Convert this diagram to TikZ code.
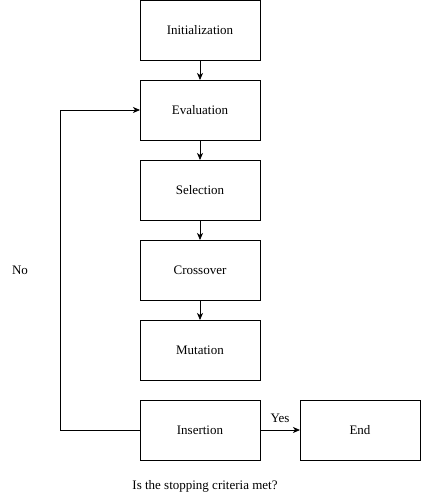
\documentclass[tikz,border=0pt]{standalone}
\usepackage{fontspec}
\setmainfont{Liberation Serif}
\usetikzlibrary{arrows.meta,positioning}

\begin{document}
\begin{tikzpicture}[
    x=1pt, y=1pt,
    node distance=20pt,
    every node/.style={font=\fontsize{13}{15}\selectfont},
    stage/.style={
        draw, rectangle,
        minimum width=120pt,
        minimum height=60pt,
        align=center,
        inner sep=0pt,
        outer sep=0pt,
        line width=0.8pt
    },
    arrow/.style={-{Stealth[length=7pt,width=6pt,inset=2pt]}, line width=0.8pt}
]
\useasboundingbox (0,0) rectangle (421,-501);

%% ── Main stages ───────────────────────────────────────
\node[stage] (init) at (200,-30) {Initialization};
\node[stage, below=of init] (eval) {Evaluation};
\node[stage, below=of eval] (sel) {Selection};
\node[stage, below=of sel] (cross) {Crossover};
\node[stage, below=of cross] (mut) {Mutation};
\node[stage, below=of mut] (ins) {Insertion};
\node[stage, right=40pt of ins] (end) {End};

%% ── Arrows down the chain ─────────────────────────────
\foreach \a/\b in {init/eval,eval/sel,sel/cross,cross/mut}{
    \draw[arrow] (\a.south) -- (\b.north);
}

%% ── Stopping test ─────────────────────────────────────
\draw[arrow] (ins.east) -- node[above=4pt] (yes) {Yes} (end.west);
\coordinate (turn) at ([xshift=-80pt]ins.west);
\draw[arrow] (ins.west) -- (turn) |- (eval.west);
\node (no) at (20,-270) {No};
\node (question) at (205,-486) {Is the stopping criteria met?};

\end{tikzpicture}
\end{document}
